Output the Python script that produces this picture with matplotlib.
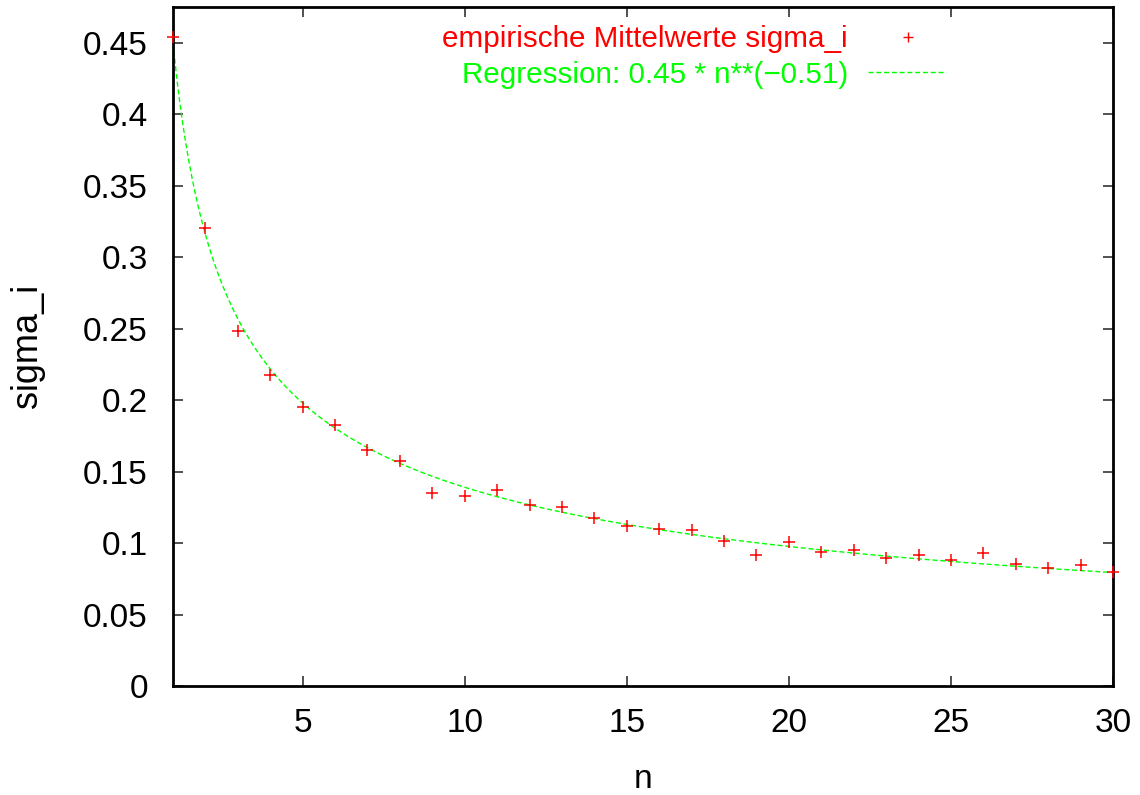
import numpy as np
import matplotlib
matplotlib.use("Agg")
import matplotlib.pyplot as plt
from matplotlib.lines import Line2D

plt.rcParams['font.family'] = ['Liberation Sans', 'DejaVu Sans']

# Data
n_values = list(range(1, 31))
sigma_values = [0.454, 0.3205, 0.2484, 0.2177, 0.1953, 0.1827, 0.1650, 0.1575,
                0.1350, 0.1330, 0.1370, 0.1270, 0.1250, 0.1176, 0.1120, 0.1100,
                0.1090, 0.1015, 0.0917, 0.1008, 0.0938, 0.0952, 0.0896, 0.0917,
                0.0882, 0.0930, 0.0854, 0.0826, 0.0847, 0.0798]
fit_a = 0.45
fit_b = -0.51
xticks = [5, 10, 15, 20, 25, 30]
yticks = [0, 0.05, 0.1, 0.15, 0.2, 0.25, 0.3, 0.35, 0.4, 0.45]
ytick_labels = ['0', '0.05', '0.1', '0.15', '0.2', '0.25', '0.3', '0.35', '0.4', '0.45']
label_points = 'empirische Mittelwerte sigma_i'
label_fit = 'Regression: 0.45 * n**(\u22120.51)'

W, H = 1140, 795
fig = plt.figure(figsize=(W / 100, H / 100), dpi=100)
L, R, T, B = 173, 1113, 7, 686
ax = fig.add_axes([L / W, 1 - B / H, (R - L) / W, (B - T) / H])

red = '#ff0000'
green = '#00ff00'

xs = np.linspace(1, 30, 600)
ax.plot(xs, fit_a * xs ** fit_b, color=green, lw=1.0, dashes=(3.6, 2.0), zorder=2)
ax.plot(n_values, sigma_values, linestyle='none', marker='+', ms=8, mew=1.1,
        color=red, zorder=3, clip_on=False)

ax.set_xlim(1, 30)
ax.set_ylim(0, 0.4752)
ax.set_xticks(xticks)
ax.set_yticks(yticks)
ax.set_yticklabels(ytick_labels)
ax.tick_params(direction='in', length=7, width=1.2, color='#333333',
               top=True, right=True, labelsize=24, pad=16)
ax.tick_params(axis='y', pad=18)
for s in ax.spines.values():
    s.set_linewidth(2.0)
    s.set_color('black')

fig.text(643 / W, 1 - 788 / H, 'n', fontsize=24, ha='center', va='baseline')
fig.text(28 / W, 1 - 346 / H, 'sigma_i', fontsize=26, ha='center', va='center',
         rotation=90)

# Legend
fig.text(848 / W, 1 - 47 / H, label_points, fontsize=21.3, color=red,
         ha='right', va='baseline')
fig.text(848 / W, 1 - 83 / H, label_fit, fontsize=21.3, color=green,
         ha='right', va='baseline')
fig.add_artist(Line2D([908 / W], [1 - 37 / H], marker='+', ms=7, mew=1.0,
                      color=red, linestyle='none', transform=fig.transFigure))
fig.add_artist(Line2D([868 / W, 946 / W], [1 - 72 / H, 1 - 72 / H], color=green,
                      lw=1.0, dashes=(3.6, 2.0), transform=fig.transFigure))

fig.savefig('out.png', dpi=100, facecolor='white')
